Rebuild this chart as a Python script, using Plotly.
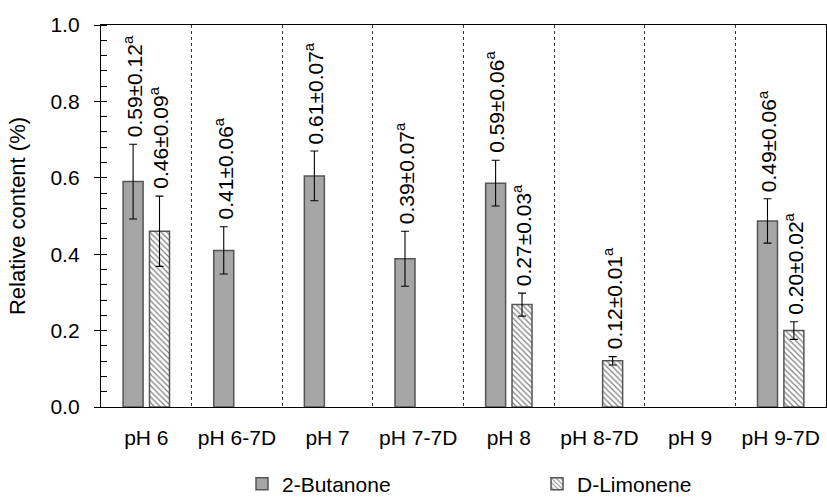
import plotly.graph_objects as go

categories = ["pH 6", "pH 6-7D", "pH 7", "pH 7-7D", "pH 8", "pH 8-7D", "pH 9", "pH 9-7D"]
butanone = [0.59, 0.41, 0.605, 0.388, 0.586, None, None, 0.487]
butanone_err = [0.098, 0.062, 0.065, 0.072, 0.06, None, None, 0.058]
butanone_labels = ["0.59±0.12", "0.41±0.06", "0.61±0.07", "0.39±0.07", "0.59±0.06", None, None, "0.49±0.06"]
limonene = [0.46, None, None, None, 0.268, 0.121, None, 0.2]
limonene_err = [0.092, None, None, None, 0.03, 0.011, None, 0.023]
limonene_labels = ["0.46±0.09", None, None, None, "0.27±0.03", "0.12±0.01", None, "0.20±0.02"]
sig_letter = "a"

FONT = "Liberation Sans, Arial, sans-serif"
W, H = 827, 497
ML, MR, MT, MB = 101, 1, 25, 90
plot_w = W - ML - MR
plot_h = H - MT - MB
group_px = plot_w / len(categories)
bar_w = 20 / group_px
shift_px = 13.2
shift = shift_px / group_px

fig = go.Figure()
fig.add_trace(go.Bar(
    x=categories, y=butanone, name="2-Butanone",
    width=bar_w, offset=-shift - bar_w / 2,
    marker=dict(color="#a6a6a6", line=dict(color="#555555", width=1.5)),
    error_y=dict(type="data", array=butanone_err, color="black", thickness=1.1, width=4),
))
fig.add_trace(go.Bar(
    x=categories, y=limonene, name="D-Limonene",
    width=bar_w, offset=shift - bar_w / 2,
    marker=dict(color="white", line=dict(color="#555555", width=1.5),
                pattern=dict(shape="\\", fgcolor="black", bgcolor="white", size=4, solidity=0.3)),
    error_y=dict(type="data", array=limonene_err, color="black", thickness=1.1, width=4),
))

annotations = []
for vals, errs, labs, sx in ((butanone, butanone_err, butanone_labels, -shift_px),
                             (limonene, limonene_err, limonene_labels, shift_px)):
    for c, v, e, t in zip(categories, vals, errs, labs):
        if v is None:
            continue
        annotations.append(dict(
            x=c, y=v + e, xref="x", yref="y", xshift=sx, yshift=5,
            text=f"{t}<sup>{sig_letter}</sup>", showarrow=False, textangle=-90,
            xanchor="center", yanchor="bottom",
            font=dict(family=FONT, size=21, color="black"),
        ))

fig.update_layout(
    width=W, height=H,
    margin=dict(l=ML, r=MR, t=MT, b=MB, autoexpand=False),
    paper_bgcolor="white", plot_bgcolor="white",
    barmode="overlay",
    showlegend=True,
    legend=dict(orientation="h", x=(242 - ML) / plot_w, xanchor="left",
                y=-77 / plot_h, yanchor="middle",
                entrywidth=250, entrywidthmode="pixels",
                font=dict(family=FONT, size=21, color="black"),
                itemwidth=30, traceorder="normal"),
    annotations=annotations,
    font=dict(family=FONT, color="black"),
)
fig.update_xaxes(
    type="category", categoryorder="array", categoryarray=categories,
    range=[-0.5, len(categories) - 0.5],
    showline=True, linecolor="black", linewidth=1.3, mirror=True,
    ticks="", tickson="boundaries", tickangle=0, automargin=False,
    showgrid=True, gridcolor="#333333", griddash="3px,3px", gridwidth=1,
    tickfont=dict(family=FONT, size=21, color="black"),
    ticklabelstandoff=12,
)
fig.update_yaxes(
    range=[0, 1], dtick=0.2, tickformat=".1f", automargin=False,
    showline=True, linecolor="black", linewidth=1.3, mirror=True,
    ticks="outside", ticklen=6, tickcolor="black",
    minor=dict(dtick=0.04, ticks="inside", ticklen=6, tickcolor="black", showgrid=False),
    showgrid=False, zeroline=False,
    tickfont=dict(family=FONT, size=21, color="black"),
    ticklabelstandoff=10,
    title=dict(text="Relative content (%)", font=dict(family=FONT, size=22, color="black"), standoff=18),
)

fig.write_html("out.html", config={"displayModeBar": False},
               post_script="document.body.style.margin='0px';document.body.style.overflow='hidden';")
